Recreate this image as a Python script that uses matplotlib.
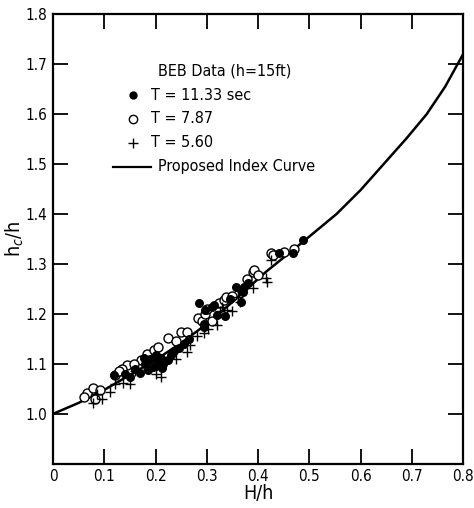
import matplotlib.pyplot as plt

plt.rcParams['font.family'] = ['DejaVu Sans']
plt.rcParams['font.stretch'] = 'condensed'

# proposed index curve, read at points along the line
curve_x = [0.0, 0.05, 0.10, 0.15, 0.20, 0.25, 0.30, 0.35, 0.415, 0.48,
           0.553, 0.60, 0.645, 0.69, 0.729, 0.765, 0.80]
curve_y = [1.000, 1.022, 1.048, 1.078, 1.108, 1.142, 1.180, 1.224, 1.284, 1.338,
           1.400, 1.448, 1.500, 1.552, 1.600, 1.655, 1.720]

# BEB data, T = 11.33 sec
dot_x = [0.284, 0.314, 0.367, 0.370, 0.357, 0.380, 0.320, 0.294, 0.245, 0.224,
         0.180, 0.190, 0.200, 0.205, 0.210, 0.195, 0.185, 0.170, 0.151, 0.118,
         0.160, 0.178, 0.488, 0.469, 0.440, 0.373, 0.366, 0.310, 0.296, 0.294,
         0.215, 0.230, 0.265, 0.255, 0.140, 0.200, 0.212, 0.345, 0.335, 0.235]
dot_y = [1.222, 1.218, 1.224, 1.244, 1.254, 1.262, 1.198, 1.174, 1.132, 1.108,
         1.100, 1.110, 1.118, 1.104, 1.112, 1.094, 1.088, 1.082, 1.074, 1.078,
         1.090, 1.112, 1.348, 1.322, 1.322, 1.254, 1.248, 1.214, 1.208, 1.180,
         1.100, 1.118, 1.150, 1.140, 1.080, 1.096, 1.092, 1.230, 1.196, 1.126]

# T = 7.87
ring_x = [0.224, 0.249, 0.282, 0.290, 0.296, 0.324, 0.334, 0.390, 0.378, 0.171,
          0.145, 0.135, 0.067, 0.078, 0.092, 0.425, 0.450, 0.392, 0.400, 0.337,
          0.350, 0.158, 0.120, 0.128, 0.184, 0.196, 0.240, 0.262, 0.310, 0.060,
          0.082, 0.470, 0.430, 0.205, 0.300]
ring_y = [1.152, 1.164, 1.192, 1.186, 1.200, 1.222, 1.228, 1.284, 1.270, 1.108,
          1.098, 1.090, 1.042, 1.052, 1.048, 1.322, 1.324, 1.288, 1.278, 1.234,
          1.236, 1.100, 1.078, 1.086, 1.120, 1.128, 1.146, 1.164, 1.186, 1.034,
          1.030, 1.330, 1.318, 1.134, 1.210]

# T = 5.60
plus_x = [0.268, 0.262, 0.320, 0.340, 0.350, 0.390, 0.112, 0.078, 0.137, 0.150,
          0.425, 0.416, 0.418, 0.330, 0.325, 0.294, 0.200, 0.210, 0.185, 0.095,
          0.085, 0.240, 0.280, 0.365, 0.302, 0.160, 0.120, 0.360]
plus_y = [1.138, 1.124, 1.178, 1.208, 1.206, 1.252, 1.044, 1.022, 1.062, 1.060,
          1.308, 1.272, 1.264, 1.214, 1.206, 1.162, 1.080, 1.074, 1.090, 1.030,
          1.040, 1.110, 1.156, 1.224, 1.170, 1.086, 1.060, 1.234]

fig = plt.figure(figsize=(4.74, 5.08), dpi=100)
ax = fig.add_axes([0.112, 0.087, 0.865, 0.885])

ax.plot(curve_x, curve_y, color='black', lw=1.8, zorder=2)
ax.scatter(ring_x, ring_y, s=42, facecolors='white', edgecolors='black',
           linewidths=1.0, zorder=3)
ax.scatter(dot_x, dot_y, s=30, color='black', zorder=4)
ax.scatter(plus_x, plus_y, s=44, marker='+', color='black',
           linewidths=1.0, zorder=5)

ax.set_xlim(0, 0.8)
ax.set_ylim(0.9, 1.8)
ax.set_xticks([0, 0.1, 0.2, 0.3, 0.4, 0.5, 0.6, 0.7, 0.8])
ax.set_xticklabels(['0', '0.1', '0.2', '0.3', '0.4', '0.5', '0.6', '0.7', '0.8'])
ax.set_yticks([1.0, 1.1, 1.2, 1.3, 1.4, 1.5, 1.6, 1.7, 1.8])
ax.set_yticklabels(['1.0', '1.1', '1.2', '1.3', '1.4', '1.5', '1.6', '1.7', '1.8'])
ax.tick_params(direction='in', length=11, width=1.3, top=True, right=True,
               labelsize=11, pad=4)
for sp in ax.spines.values():
    sp.set_linewidth(1.6)

ax.set_xlabel('H/h', fontsize=14, labelpad=0)
ax.set_ylabel('h$_c$/h', fontsize=14, labelpad=0)
ax.yaxis.set_label_coords(-0.066, 0.5)

# key block inside the axes
tr = ax.transAxes
fs = 11.5
ax.text(0.255, 0.873, 'BEB Data (h=15ft)', transform=tr, fontsize=fs, va='center')
ax.plot([0.195], [0.820], 'o', color='black', ms=5, transform=tr, clip_on=False)
ax.text(0.24, 0.820, 'T = 11.33 sec', transform=tr, fontsize=fs, va='center')
ax.plot([0.195], [0.767], 'o', mfc='white', mec='black', ms=6, mew=1.0,
        transform=tr, clip_on=False)
ax.text(0.24, 0.767, 'T = 7.87', transform=tr, fontsize=fs, va='center')
ax.plot([0.195], [0.714], '+', color='black', ms=7, mew=1.0, transform=tr,
        clip_on=False)
ax.text(0.24, 0.714, 'T = 5.60', transform=tr, fontsize=fs, va='center')
ax.plot([0.145, 0.24], [0.661, 0.661], color='black', lw=1.6, transform=tr)
ax.text(0.255, 0.661, 'Proposed Index Curve', transform=tr, fontsize=fs,
        va='center')

fig.savefig('out.png', dpi=100)
